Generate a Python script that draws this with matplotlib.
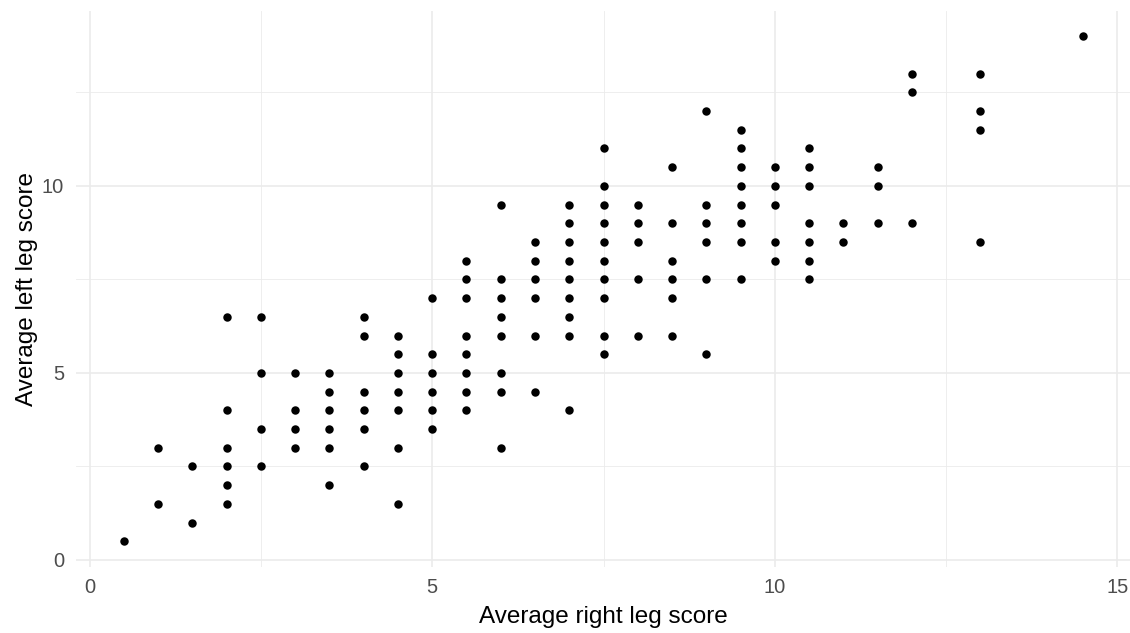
import numpy as np
import matplotlib
matplotlib.use("Agg")
import matplotlib.pyplot as plt

# each column: right-leg score and the left-leg scores observed at it
right_vals = [0.5, 1, 1.5, 2, 2.5, 3, 3.5, 4, 4.5, 5, 5.5, 6, 6.5, 7, 7.5,
              8, 8.5, 9, 9.5, 10, 10.5, 11, 11.5, 12, 13, 14.5]
left_vals = [
    [0.5],
    [3, 1.5],
    [2.5, 1],
    [6.5, 4, 3, 2.5, 2, 1.5],
    [6.5, 5, 3.5, 2.5],
    [5, 4, 3.5, 3],
    [5, 4.5, 4, 3.5, 3, 2],
    [6.5, 6, 4.5, 4, 3.5, 2.5],
    [6, 5.5, 5, 4.5, 4, 3, 1.5],
    [7, 5.5, 5, 4.5, 4, 3.5],
    [8, 7.5, 7, 6, 5.5, 5, 4.5, 4],
    [9.5, 7.5, 7, 6.5, 6, 5, 4.5, 3],
    [8.5, 8, 7.5, 7, 6, 4.5],
    [9.5, 9, 8.5, 8, 7.5, 7, 6.5, 6, 4],
    [11, 10, 9.5, 9, 8.5, 8, 7.5, 7, 6, 5.5],
    [9.5, 9, 8.5, 7.5, 6],
    [10.5, 9, 8, 7.5, 7, 6],
    [12, 9.5, 9, 8.5, 7.5, 5.5],
    [11.5, 11, 10.5, 10, 9.5, 9, 8.5, 7.5],
    [10.5, 10, 9.5, 8.5, 8],
    [11, 10.5, 10, 9, 8.5, 8, 7.5],
    [9, 8.5],
    [10.5, 10, 9],
    [13, 12.5, 9],
    [13, 12, 11.5, 8.5],
    [14],
]

x = []
y = []
for r, ls in zip(right_vals, left_vals):
    for l in ls:
        x.append(r)
        y.append(l)

plt.rcParams['font.family'] = ['Liberation Sans', 'DejaVu Sans']

fig = plt.figure(figsize=(11.3, 6.33), dpi=100)
ax = fig.add_axes([76 / 1130, 1 - 566.5 / 633, (1131 - 76) / 1130, (566.5 - 11) / 633])

ax.scatter(x, y, s=37, color='black', zorder=3, linewidths=0)

ax.set_xlim(-0.2, 15.2)
ax.set_ylim(-0.175, 14.675)
ax.set_xticks([0, 5, 10, 15])
ax.set_yticks([0, 5, 10])
ax.set_xticks([2.5, 7.5, 12.5], minor=True)
ax.set_yticks([2.5, 7.5, 12.5], minor=True)

ax.grid(True, which='major', color='#EBEBEB', linewidth=1.2)
ax.grid(True, which='minor', color='#EBEBEB', linewidth=0.6)
ax.set_axisbelow(True)
for s in ax.spines.values():
    s.set_visible(False)
ax.tick_params(which='both', length=0, labelsize=14.5, labelcolor='#4D4D4D', pad=8.5)

ax.set_xlabel("Average right leg score", fontsize=17.5, color='black', labelpad=6)
ax.set_ylabel("Average left leg score", fontsize=17.5, color='black', labelpad=3)

fig.savefig("out.png", dpi=100)
